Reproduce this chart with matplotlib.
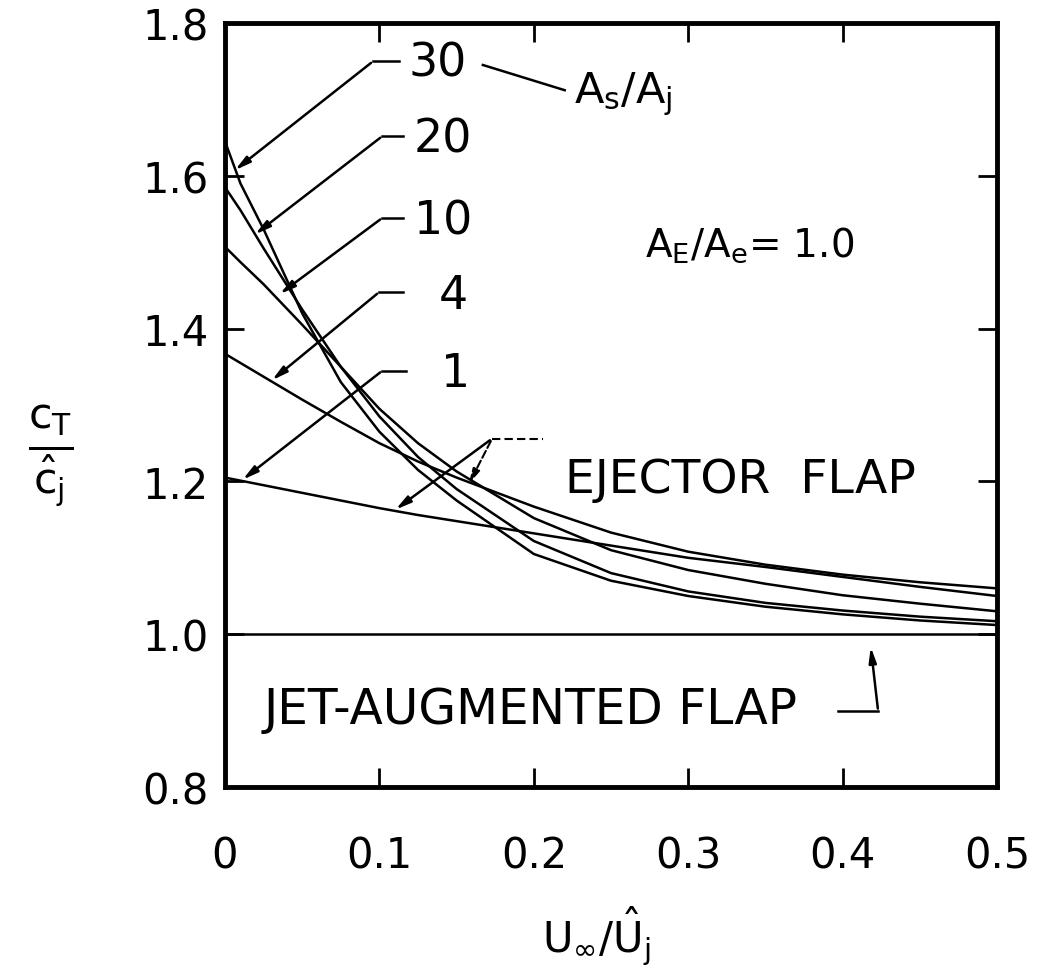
import matplotlib
matplotlib.use('Agg')
import matplotlib.pyplot as plt

plt.rcParams['font.family'] = ['DejaVu Sans']
plt.rcParams['mathtext.fontset'] = 'dejavusans'

# 数据
u_ratio = [0, 0.01, 0.025, 0.05, 0.075, 0.1, 0.125, 0.15, 0.2, 0.25, 0.3, 0.35, 0.4, 0.45, 0.5]
area_ratios = ['1', '4', '10', '20', '30']
ct_1 = [1.205, 1.201, 1.195, 1.185, 1.175, 1.165, 1.156, 1.148, 1.132, 1.116, 1.100, 1.088, 1.075, 1.062, 1.050]
ct_4 = [1.367, 1.355, 1.337, 1.307, 1.278, 1.250, 1.226, 1.205, 1.167, 1.133, 1.108, 1.091, 1.078, 1.068, 1.060]
ct_10 = [1.507, 1.487, 1.458, 1.405, 1.350, 1.295, 1.250, 1.213, 1.152, 1.110, 1.084, 1.066, 1.051, 1.040, 1.030]
ct_20 = [1.585, 1.555, 1.505, 1.425, 1.350, 1.285, 1.232, 1.190, 1.122, 1.080, 1.056, 1.041, 1.031, 1.023, 1.017]
ct_30 = [1.645, 1.590, 1.530, 1.420, 1.330, 1.265, 1.215, 1.175, 1.105, 1.070, 1.050, 1.036, 1.026, 1.018, 1.012]
jet_flap = [1.0, 1.0]
jet_x = [0, 0.5]

fig = plt.figure(figsize=(10.46, 9.70), dpi=100)
ax = fig.add_axes([0.2151, 0.1876, 0.7381, 0.7877])

for ct in [ct_1, ct_4, ct_10, ct_20, ct_30]:
    ax.plot(u_ratio, ct, color='black', lw=1.8)
ax.plot(jet_x, jet_flap, color='black', lw=1.8)

ax.set_xlim(0, 0.5)
ax.set_ylim(0.8, 1.8)
ax.set_xticks([0, 0.1, 0.2, 0.3, 0.4, 0.5])
ax.set_xticklabels(['0', '0.1', '0.2', '0.3', '0.4', '0.5'])
ax.set_yticks([0.8, 1.0, 1.2, 1.4, 1.6, 1.8])
ax.set_yticklabels(['0.8', '1.0', '1.2', '1.4', '1.6', '1.8'])
ax.tick_params(axis='both', direction='in', length=14, width=2, labelsize=30,
               top=True, right=True)
ax.tick_params(axis='x', pad=34)
ax.tick_params(axis='y', pad=12)
for s in ax.spines.values():
    s.set_linewidth(3.5)

# 标签
fig.text(0.57, 0.035, r'$\mathrm{U}_\infty/\hat{\mathrm{U}}_\mathrm{j}$', fontsize=30,
         ha='center', va='center')
fig.text(0.048, 0.53, r'$\frac{\mathrm{c}_\mathrm{T}}{\hat{\mathrm{c}}_\mathrm{j}}$',
         fontsize=44, ha='center', va='center')

# A_s/A_j 标注
arrow_kw = dict(arrowstyle='-|>,head_length=0.9,head_width=0.22', color='black', lw=1.8)
labels = [('30', (0.138, 1.748), (0.113, 0.096, 1.750), (0.005, 1.605)),
          ('20', (0.141, 1.648), (0.115, 0.102, 1.652), (0.018, 1.521)),
          ('10', (0.141, 1.541), (0.115, 0.102, 1.545), (0.034, 1.443)),
          ('4', (0.148, 1.443), (0.115, 0.100, 1.448), (0.029, 1.330)),
          ('1', (0.149, 1.341), (0.117, 0.102, 1.345), (0.010, 1.200))]
for txt, tpos, (x1, x0, yl), tip in labels:
    ax.text(tpos[0], tpos[1], txt, fontsize=33, ha='center', va='center')
    ax.plot([x0, x1], [yl, yl], color='black', lw=1.8)
    ax.annotate('', xy=tip, xytext=(x0, yl), arrowprops=arrow_kw)

ax.plot([0.167, 0.220], [1.745, 1.712], color='black', lw=1.8)
ax.text(0.226, 1.708, r'A$_\mathsf{s}$/A$_\mathsf{j}$', fontsize=31, ha='left', va='center')
ax.text(0.34, 1.511, r'A$_\mathsf{E}$/A$_\mathsf{e}$= 1.0', fontsize=28, ha='center', va='center')

# 引射襟翼
ax.text(0.334, 1.203, 'EJECTOR  FLAP', fontsize=34, ha='center', va='center')
ax.plot([0.173, 0.206], [1.256, 1.256], color='black', lw=1.5, ls=(0, (4, 2)))
ax.annotate('', xy=(0.109, 1.161), xytext=(0.173, 1.256), arrowprops=arrow_kw)
ax.annotate('', xy=(0.157, 1.193), xytext=(0.173, 1.256),
            arrowprops=dict(arrowstyle='-|>,head_length=0.9,head_width=0.22',
                            color='black', lw=1.5, ls='--'))

# 射流增升襟翼
ax.text(0.198, 0.902, 'JET-AUGMENTED FLAP', fontsize=35, ha='center', va='center')
ax.plot([0.397, 0.423], [0.899, 0.899], color='black', lw=1.8)
ax.annotate('', xy=(0.418, 0.987), xytext=(0.423, 0.899), arrowprops=arrow_kw)

fig.savefig('out.png', dpi=100)
